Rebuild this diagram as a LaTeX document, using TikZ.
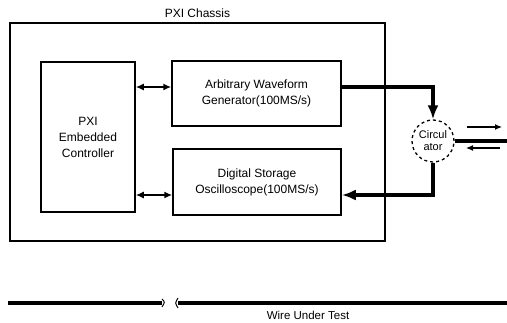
\documentclass[tikz,border=0pt]{standalone}
\usepackage{fontspec}
\setmainfont{Liberation Sans}
\usetikzlibrary{arrows.meta}
\begin{document}
\begin{tikzpicture}[x=1pt,y=-1pt,
  box/.style={draw,line width=1.5pt,inner sep=0pt,align=center,font=\fontsize{12}{16}\selectfont},
  biarrow/.style={line width=1.5pt,{Latex[length=8pt,width=7pt]}-{Latex[length=8pt,width=7pt]}},
  heavy/.style={line width=3.6pt},
  heavyarrow/.style={line width=3.6pt,-{Latex[length=14pt,width=11pt]}},
  thinarrow/.style={line width=1.1pt,-{Latex[length=7pt,width=6pt]}},
  lbl/.style={inner sep=0pt,font=\fontsize{12}{14}\selectfont}]
\useasboundingbox (0,0) rectangle (507,323);
\node[box,minimum width=375pt,minimum height=218pt] (chassis) at (197.5,132) {};
\node[lbl] (chlabel) at (197.5,13) {PXI Chassis};
\node[box,minimum width=94pt,minimum height=150pt] (ctrl) at (88,137) {PXI\\Embedded\\Controller};
\node[box,minimum width=169pt,minimum height=65pt] (awg) at (256.5,93.5) {Arbitrary Waveform\\Generator(100MS/s)};
\node[box,minimum width=168pt,minimum height=66pt] (dso) at (257,182) {Digital Storage\\Oscilloscope(100MS/s)};
\node[draw,dashed,circle,line width=1.3pt,minimum size=42pt,inner sep=0pt,align=center,
      font=\fontsize{11}{12}\selectfont] (circ) at (433,141) {Circul\\ator};
\coordinate (awgin) at ([yshift=6.5pt]awg.west);
\coordinate (awgout) at ([yshift=6.5pt]awg.east);
\coordinate (dsoin) at ([yshift=-13pt]dso.west);
\coordinate (dsoout) at ([yshift=-13pt]dso.east);
\draw[biarrow] (ctrl.east |- awgin) -- (awgin);
\draw[biarrow] (ctrl.east |- dsoin) -- (dsoin);
\draw[heavyarrow] (awgout) -| (circ.north);
\draw[heavyarrow] (circ.south) |- (dsoout);
\coordinate (rend) at (507,141);
\draw[heavy] (circ.east) -- (rend);
\coordinate (s1a) at (467,127);
\coordinate (s1b) at (502,127);
\coordinate (s2a) at (500,148);
\coordinate (s2b) at (466,148);
\draw[thinarrow] (s1a) -- (s1b);
\draw[thinarrow] (s2a) -- (s2b);
% wire under test
\coordinate (w1) at (8,303);
\coordinate (w2) at (162,303);
\coordinate (w3) at (178,303);
\coordinate (w4) at (507,303);
\draw[heavy] (w1) -- (w2);
\draw[heavy] (w3) -- (w4);
\draw[line width=1pt] ([yshift=4pt]w2) .. controls ([xshift=3pt,yshift=1pt]w2) .. ([yshift=-4pt]w2);
\draw[line width=1pt] ([yshift=5pt]w3) .. controls ([xshift=-3pt,yshift=0pt]w3) .. ([yshift=-5pt]w3);
\node[lbl,font=\fontsize{11.5}{14}\selectfont] (wut) at (308,315) {Wire Under Test};
\end{tikzpicture}
\end{document}
